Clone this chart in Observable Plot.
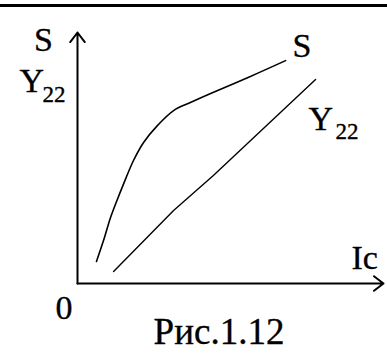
<!DOCTYPE html>
<html>
<head>
<meta charset="utf-8">
<script src="https://cdn.jsdelivr.net/npm/d3@7"></script>
<script src="https://cdn.jsdelivr.net/npm/@observablehq/plot@0.6"></script>
<style>
  html, body { margin: 0; padding: 0; background: #fff; }
  #wrap { position: relative; width: 387px; height: 354px; overflow: hidden; }
  #topline { position: absolute; left: 0; top: 4px; width: 387px; height: 3px; background: #000; }
  #chart { position: absolute; left: 0; top: 0; }
</style>
</head>
<body>
<div id="wrap"><div id="chart"></div><div id="topline"></div></div>
<script>
// Curve S (transconductance) vs Ic
const sIc = [0.62, 0.85, 1.08, 1.29, 1.47, 1.83, 2.16, 2.61, 3.14, 3.69, 4.35, 5.65, 6.80];
const sVal = [0.88, 1.71, 2.63, 3.31, 3.86, 4.90, 5.62, 6.29, 6.89, 7.21, 7.57, 8.25, 8.88];
// Line Y22 vs Ic
const yIc = [1.18, 3.14, 4.44, 7.78];
const yVal = [0.48, 2.91, 4.30, 8.13];
// Axis extents
const xMax = 10;
const yMax = 10;
const captionText = "Рис.1.12";

const sData = sIc.map((x, i) => ({x, y: sVal[i]}));
const yData = yIc.map((x, i) => ({x, y: yVal[i]}));
const sEnd = sData[sData.length - 1];
const yEnd = yData[yData.length - 1];

const font = "Liberation Serif";
const big = 34;
const sub = 23;
const T = (data, o) => Plot.text(data, {x: "x", y: "y", fill: "#000", stroke: "#000", strokeWidth: 0.35, fontFamily: font, lineAnchor: "bottom", textAnchor: "start", ...o});

const chart = Plot.plot({
  width: 387,
  height: 354,
  marginLeft: 77,
  marginRight: 4,
  marginTop: 32,
  marginBottom: 71,
  x: {domain: [0, xMax], axis: null},
  y: {domain: [0, yMax], axis: null},
  style: {fontFamily: font, background: "transparent", overflow: "visible"},
  marks: [
    // axes
    Plot.arrow([{x1: 0, y1: 0, x2: xMax, y2: 0}], {x1: "x1", y1: "y1", x2: "x2", y2: "y2", stroke: "#000", strokeWidth: 2, headLength: 9, headAngle: 75}),
    Plot.arrow([{x1: 0, y1: 0, x2: 0, y2: yMax}], {x1: "x1", y1: "y1", x2: "x2", y2: "y2", stroke: "#000", strokeWidth: 2, headLength: 9, headAngle: 75}),
    // curves
    Plot.line(sData, {x: "x", y: "y", stroke: "#000", strokeWidth: 1.6, curve: "catmull-rom"}),
    Plot.line(yData, {x: "x", y: "y", stroke: "#000", strokeWidth: 1.4}),
    // y-axis labels
    T([{x: 0, y: yMax}], {text: () => "S", fontSize: big, textAnchor: "middle", dx: -34, dy: 18}),
    T([{x: 0, y: yMax}], {text: () => "Y", fontSize: big, dx: -58, dy: 59}),
    T([{x: 0, y: yMax}], {text: () => "22", fontSize: sub, dx: -35, dy: 69}),
    // curve labels
    T([sEnd], {text: () => "S", fontSize: big, dx: 7, dy: -4}),
    T([yEnd], {text: () => "Y", fontSize: big, dx: -7, dy: 51}),
    T([yEnd], {text: () => "22", fontSize: sub, dx: 20, dy: 60}),
    // x-axis label and origin
    T([{x: xMax, y: 0}], {text: () => "Ic", fontSize: big, dx: -32, dy: -15}),
    T([{x: 0, y: 0}], {text: () => "0", fontSize: big, dx: -22, dy: 35}),
    // caption
    Plot.text([captionText], {text: d => d, frameAnchor: "bottom", fontFamily: font, fill: "#000", stroke: "#000", strokeWidth: 0.35, fontSize: 37, textAnchor: "middle", lineAnchor: "bottom", dx: -11.5, dy: 60})
  ]
});
document.getElementById("chart").appendChild(chart);
</script>
</body>
</html>
